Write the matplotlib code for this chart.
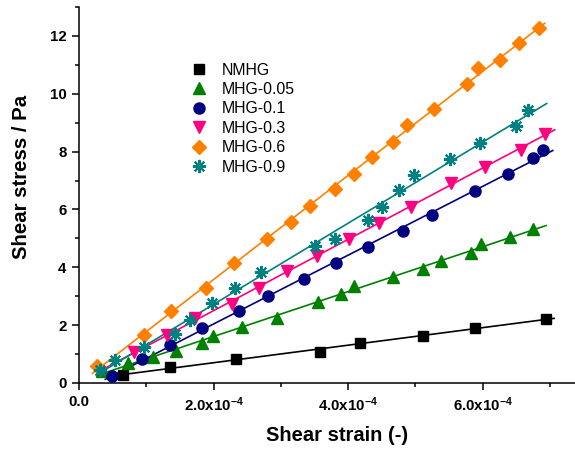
import numpy as np
import matplotlib
matplotlib.use("Agg")
import matplotlib.pyplot as plt
from matplotlib.ticker import MultipleLocator, FixedLocator

plt.rcParams['font.family'] = ['Liberation Sans', 'DejaVu Sans']
plt.rcParams['mathtext.fontset'] = 'custom'
plt.rcParams['mathtext.rm'] = 'Liberation Sans'
plt.rcParams['mathtext.bf'] = 'Liberation Sans:bold'

# ---- data (strain in units of 1e-4, stress in Pa) ----
nmhg_x = [0.654, 1.352, 2.333, 3.581, 4.175, 5.111, 5.884, 6.939]
nmhg_y = [0.27, 0.557, 0.835, 1.078, 1.37, 1.635, 1.913, 2.205]

m005_x = [0.342, 0.724, 1.104, 1.441, 1.832, 1.996, 2.426, 2.946, 3.556, 3.893,
          4.086, 4.661, 5.107, 5.379, 5.820, 5.973, 6.404, 6.750]
m005_y = [0.41, 0.677, 0.904, 1.113, 1.37, 1.635, 1.95, 2.25, 2.817, 3.075,
          3.34, 3.652, 3.944, 4.209, 4.501, 4.79, 5.043, 5.336]

m01_x = [0.486, 0.931, 1.352, 1.823, 2.382, 2.813, 3.343, 3.826, 4.287, 4.819,
         5.241, 5.884, 6.370, 6.746, 6.894]
m01_y = [0.24, 0.824, 1.329, 1.913, 2.477, 3.016, 3.583, 4.146, 4.703, 5.252,
         5.805, 6.643, 7.217, 7.77, 8.059]

m03_x = [0.817, 1.308, 1.724, 2.273, 2.670, 3.086, 3.536, 4.016, 4.453, 4.929,
         5.527, 6.040, 6.563, 6.924]
m03_y = [1.068, 1.649, 2.240, 2.737, 3.283, 3.868, 4.383, 4.974, 5.537, 6.101,
         6.929, 7.478, 8.049, 8.626]

m06_x = [0.263, 0.971, 1.363, 1.884, 2.303, 2.796, 3.150, 3.432, 3.804, 4.089,
         4.349, 4.666, 4.869, 5.275, 5.761, 5.933, 6.260, 6.541, 6.842]
m06_y = [0.591, 1.659, 2.494, 3.301, 4.163, 4.991, 5.565, 6.136, 6.692, 7.235,
         7.805, 8.348, 8.904, 9.485, 10.337, 10.887, 11.165, 11.746, 12.278]

m09_x = [0.319, 0.535, 0.961, 1.422, 1.642, 1.982, 2.314, 2.705, 3.507, 3.811,
         4.290, 4.498, 4.762, 4.981, 5.513, 5.963, 6.498, 6.676]
m09_y = [0.442, 0.8, 1.235, 1.687, 2.181, 2.762, 3.294, 3.850, 4.730, 4.988,
         5.649, 6.094, 6.661, 7.207, 7.757, 8.313, 8.887, 9.426]

labels = ['NMHG', 'MHG-0.05', 'MHG-0.1', 'MHG-0.3', 'MHG-0.6', 'MHG-0.9']
# fitted-line ranges (1e-4)
fit_start = [0.53, 0.26, 0.39, 0.36, 0.20, 0.26]
fit_end = [7.06, 6.94, 7.04, 7.07, 6.92, 6.95]

xs = [nmhg_x, m005_x, m01_x, m03_x, m06_x, m09_x]
ys = [nmhg_y, m005_y, m01_y, m03_y, m06_y, m09_y]
colors = ['#000000', '#008000', '#000080', '#FF0080', '#FF8000', '#008080']
markers = ['s', '^', 'o', 'v', 'D', (8, 2, 0)]
msizes = [7.2, 9, 8, 9, 7.2, 9.5]

fig = plt.figure(figsize=(5.75, 4.54), dpi=100)
ax = fig.add_axes([79/575, (454-383)/454, 498/575, 376/454])

scale = 1e-4
for x, y, c, m, ms, lab, s0, s1 in zip(xs, ys, colors, markers, msizes, labels, fit_start, fit_end):
    xa = np.array(x) * scale
    ya = np.array(y)
    k, b = np.polyfit(xa, ya, 1)
    xf = np.array([s0, s1]) * scale
    ax.plot(xf, k * xf + b, color=c, lw=1.2, zorder=2)
    if m == (8, 2, 0):
        ax.plot(xa, ya, linestyle='none', marker=m, ms=ms, mec=c, mew=1.5,
                color=c, label=lab, zorder=3)
    else:
        ax.plot(xa, ya, linestyle='none', marker=m, ms=ms, color=c,
                mec=c, label=lab, zorder=3)

ax.set_xlim(0, 7.4e-4)
ax.set_ylim(0, 13)

ax.spines['top'].set_visible(False)
ax.spines['right'].set_visible(False)
for sp in ['left', 'bottom']:
    ax.spines[sp].set_linewidth(1.1)

ax.xaxis.set_major_locator(FixedLocator([0, 2e-4, 4e-4, 6e-4]))
ax.xaxis.set_minor_locator(FixedLocator([1e-4, 3e-4, 5e-4, 7e-4]))
ax.yaxis.set_major_locator(MultipleLocator(2))
ax.yaxis.set_minor_locator(MultipleLocator(1))
ax.set_xticklabels(['0.0', r'$\mathbf{2.0x10^{-4}}$', r'$\mathbf{4.0x10^{-4}}$',
                    r'$\mathbf{6.0x10^{-4}}$'])
ax.tick_params(which='major', direction='out', length=5, width=1.1,
               labelsize=10.8, pad=4)
ax.tick_params(which='minor', direction='out', length=3, width=1.1)
for t in ax.get_xticklabels() + ax.get_yticklabels():
    t.set_fontweight('bold')

ax.set_xlabel('Shear strain (-)', fontsize=14.5, fontweight='bold')
ax.set_ylabel('Shear stress / Pa', fontsize=14.7, fontweight='bold')
ax.xaxis.set_label_coords((337.5 - 79) / 498, -0.115)
ax.yaxis.set_label_coords(-0.0964, 0.549)

leg = ax.legend(loc='upper left', bbox_to_anchor=(0.2125, 0.869), frameon=False,
                fontsize=11.4, handlelength=1.0, handletextpad=0.94,
                labelspacing=0.28, borderaxespad=0)

fig.savefig('out.png', dpi=100)
